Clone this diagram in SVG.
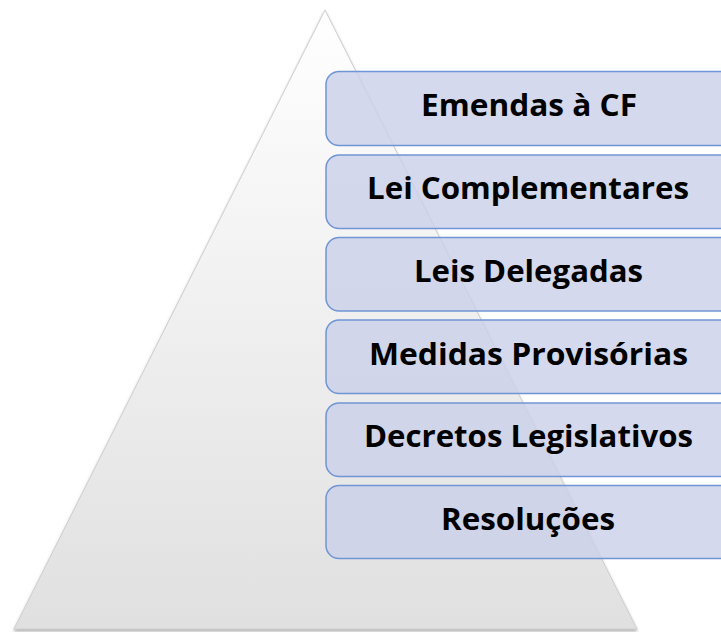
<svg xmlns="http://www.w3.org/2000/svg" width="721" height="632" viewBox="0 0 721 632">
<defs>
<linearGradient id="triFill" x1="0" y1="0" x2="0" y2="1">
<stop offset="0" stop-color="#ffffff"/>
<stop offset="1" stop-color="#e0e0e0"/>
</linearGradient>
<filter id="shadow" x="-10%" y="-10%" width="120%" height="120%">
<feGaussianBlur in="SourceAlpha" stdDeviation="1.6"/>
<feOffset dx="0" dy="1.5" result="b"/>
<feFlood flood-color="#7a7a7a" flood-opacity="0.6"/>
<feComposite in2="b" operator="in" result="s"/>
<feMerge><feMergeNode in="s"/><feMergeNode in="SourceGraphic"/></feMerge>
</filter>
</defs>
<style>
.box{fill:#c9d0e8;fill-opacity:0.8;stroke:#6f95d5;stroke-width:1.5}
.lbl{font-family:"Open Sans","Lato","Liberation Sans",sans-serif;font-weight:bold;font-size:31px;fill:#000;text-anchor:middle}
</style>
<rect width="721" height="632" fill="#ffffff"/>
<g id="pyramid">
<polygon points="325,10 637,629 14,629" fill="url(#triFill)" stroke="#cfcfcf" stroke-width="1" filter="url(#shadow)"/>
</g>
<g id="connectors"></g>
<g id="n1"><rect class="box" x="326" y="71.5" width="410" height="74" rx="13"/><text class="lbl" x="529" y="116" textLength="216" lengthAdjust="spacingAndGlyphs">Emendas à CF</text></g>
<g id="n2"><rect class="box" x="326" y="155" width="410" height="73.5" rx="13"/><text class="lbl" x="528" y="198.5" textLength="322" lengthAdjust="spacingAndGlyphs">Lei Complementares</text></g>
<g id="n3"><rect class="box" x="326" y="237.5" width="410" height="73.5" rx="13"/><text class="lbl" x="528.5" y="282" textLength="229" lengthAdjust="spacingAndGlyphs">Leis Delegadas</text></g>
<g id="n4"><rect class="box" x="326" y="320" width="410" height="73.5" rx="13"/><text class="lbl" x="528.5" y="365" textLength="319" lengthAdjust="spacingAndGlyphs">Medidas Provisórias</text></g>
<g id="n5"><rect class="box" x="326" y="403" width="410" height="73.5" rx="13"/><text class="lbl" x="528.5" y="447" textLength="329" lengthAdjust="spacingAndGlyphs">Decretos Legislativos</text></g>
<g id="n6"><rect class="box" x="326" y="485.5" width="410" height="73" rx="13"/><text class="lbl" x="528" y="529.5" textLength="174" lengthAdjust="spacingAndGlyphs">Resoluções</text></g>
</svg>
